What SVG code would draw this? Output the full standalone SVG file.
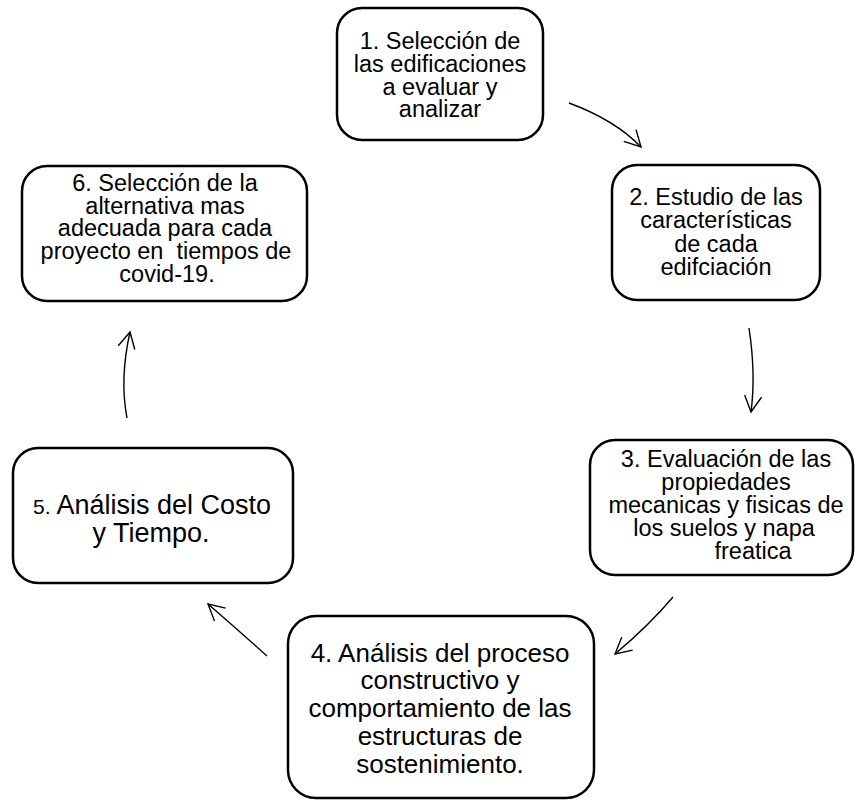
<svg xmlns="http://www.w3.org/2000/svg" width="855" height="801" viewBox="0 0 855 801">
<style>
  .box { fill: #ffffff; stroke: #000000; stroke-width: 2.5; }
  .t { font-family: "Liberation Sans", Arial, sans-serif; fill: #000000; text-anchor: middle; }
  .s { font-size: 23.5px; }
  .l { font-size: 26px; }
  .conn { fill: none; stroke: #000000; stroke-width: 1.4; marker-end: url(#head); }
</style>
<defs>
  <marker id="head" viewBox="-18 -10 20 20" markerWidth="20" markerHeight="20" refX="0" refY="0" orient="auto" markerUnits="userSpaceOnUse" overflow="visible">
    <path d="M-16,-8.5 L0,0 L-16,8.5" fill="none" stroke="#000000" stroke-width="1.4"/>
  </marker>
</defs>
<rect x="0" y="0" width="855" height="801" fill="#ffffff"/>

<g id="node1">
  <rect class="box" x="337" y="8" width="206" height="132" rx="25" ry="25"/>
  <text class="t s" x="440" y="49">1. Selección de</text>
  <text class="t s" x="440" y="72">las edificaciones</text>
  <text class="t s" x="440" y="95">a evaluar y</text>
  <text class="t s" x="440" y="117">analizar</text>
</g>

<g id="node2">
  <rect class="box" x="612" y="165" width="208" height="135" rx="25" ry="25"/>
  <text class="t s" x="716" y="205">2. Estudio de las</text>
  <text class="t s" x="716" y="228">características</text>
  <text class="t s" x="716" y="252">de cada</text>
  <text class="t s" x="716" y="275">edifciación</text>
</g>

<g id="node3">
  <rect class="box" x="590" y="440" width="263" height="135" rx="25" ry="25"/>
  <text class="t s" x="726" y="467">3. Evaluación de las</text>
  <text class="t s" x="726" y="490">propiedades</text>
  <text class="t s" x="726" y="513">mecanicas y fisicas de</text>
  <text class="t s" x="724" y="536">los suelos y napa</text>
  <text class="t s" x="753" y="559">freatica</text>
</g>

<g id="node4">
  <rect class="box" x="288" y="616" width="306" height="182" rx="28" ry="28"/>
  <text class="t l" x="440" y="662">4. Análisis del proceso</text>
  <text class="t l" x="440" y="689">constructivo y</text>
  <text class="t l" x="440" y="717">comportamiento de las</text>
  <text class="t l" x="440" y="745">estructuras de</text>
  <text class="t l" x="440" y="773">sostenimiento.</text>
</g>

<g id="node5">
  <rect class="box" x="13" y="448" width="280" height="135" rx="25" ry="25"/>
  <text class="t" x="152" y="514" style="font-size:27px"><tspan style="font-size:21px">5. </tspan>Análisis del Costo</text>
  <text class="t" x="151" y="542" style="font-size:27px">y Tiempo.</text>
</g>

<g id="node6">
  <rect class="box" x="22" y="166" width="285" height="135" rx="25" ry="25"/>
  <text class="t s" x="165" y="191">6. Selección de la</text>
  <text class="t s" x="165" y="213.5">alternativa mas</text>
  <text class="t s" x="165" y="236">adecuada para cada</text>
  <text class="t s" x="166" y="259" xml:space="preserve">proyecto en  tiempos de</text>
  <text class="t s" x="167" y="282">covid-19.</text>
</g>

<g id="connectors">
  <path class="conn" d="M569,103 Q615,120 641,147"/>
  <path class="conn" d="M749,328 Q756,374 751,412"/>
  <path class="conn" d="M673,597 Q650,624.5 615,654"/>
  <path class="conn" d="M267,656 Q242.5,634 208,604"/>
  <path class="conn" d="M127,418 Q119.5,379 130,332"/>
</g>
</svg>
